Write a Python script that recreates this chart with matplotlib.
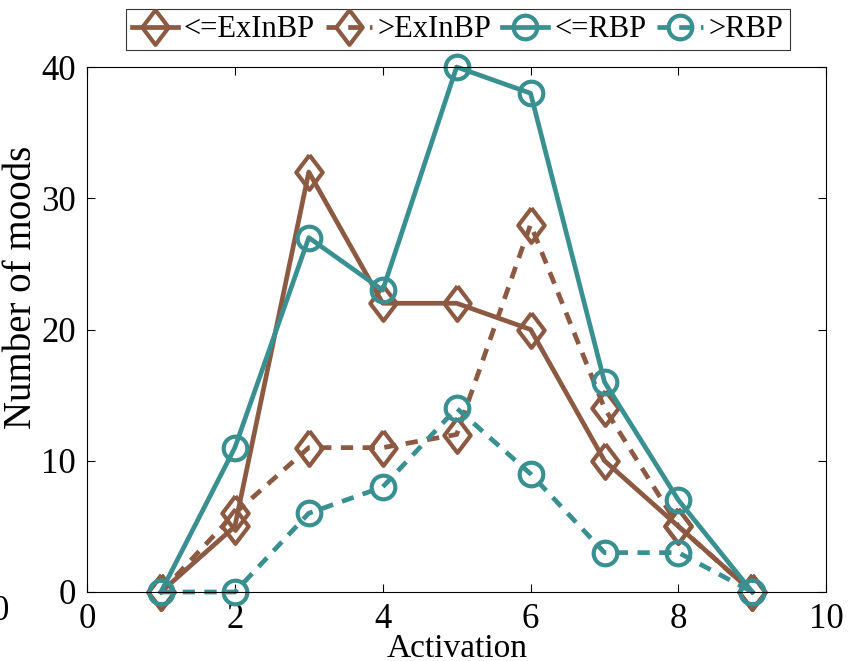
import numpy as np
import matplotlib
matplotlib.use("Agg")
import matplotlib.pyplot as plt

plt.rcParams["font.family"] = ["Liberation Serif", "DejaVu Serif"]

# data
activation = [1, 2, 3, 4, 5, 6, 7, 8, 9]
le_exinbp = [0, 5, 32, 22, 22, 20, 10, 5, 0]
gt_exinbp = [0, 6, 11, 11, 12, 28, 14, 5, 0]
le_rbp = [0, 11, 27, 23, 40, 38, 16, 7, 0]
gt_rbp = [0, 0, 6, 8, 14, 9, 3, 3, 0]

brown = "#8c5a42"
teal = "#3a9090"

# tall matlab-like diamond
diamond = [(0, 1), (0.76, 0), (0, -1), (-0.76, 0), (0, 1)]

fig = plt.figure(figsize=(8.48, 6.61), dpi=100)
ax = fig.add_axes([0.1026, 0.1044, 0.8718, 0.7942])

lw = 3.4
dash = (2.6, 2.0)
kw = dict(lw=lw, mfc="none", mew=3.0, clip_on=False)
ax.plot(activation, le_exinbp, color=brown, marker=diamond, ms=25, mec=brown,
        label="<=ExInBP", **kw)
ax.plot(activation, gt_exinbp, color=brown, marker=diamond, ms=25, mec=brown,
        ls=(0, dash), label=">ExInBP", **kw)
ax.plot(activation, le_rbp, color=teal, marker="o", ms=17, mec=teal,
        label="<=RBP", **kw)
ax.plot(activation, gt_rbp, color=teal, marker="o", ms=17, mec=teal,
        ls=(0, dash), label=">RBP", **kw)

ax.set_xlim(0, 10)
ax.set_ylim(0, 40)
ax.set_xticks([0, 2, 4, 6, 8, 10])
ax.set_yticks([0, 10, 20, 30, 40])
ax.tick_params(direction="in", top=True, right=True, length=6, width=0.8,
               labelsize=25, pad=8)
for s in ax.spines.values():
    s.set_linewidth(0.8)

ax.set_xlabel("Activation", fontsize=24, labelpad=-2)
fig.text(0.025, 0.565, "Number of moods", rotation=90, fontsize=28,
         ha="center", va="center")
fig.text(0.0, 0.075, "0", fontsize=25, ha="center", va="center")

leg = fig.legend(loc="upper center", bbox_to_anchor=(0.54, 0.986), ncol=4,
                 fontsize=22, frameon=True, fancybox=False, edgecolor="black",
                 handlelength=1.5, handletextpad=0.2, columnspacing=0.35,
                 borderpad=0.2, borderaxespad=0, markerscale=1.0)
leg.get_frame().set_linewidth(0.8)

fig.savefig("out.png", dpi=100)
